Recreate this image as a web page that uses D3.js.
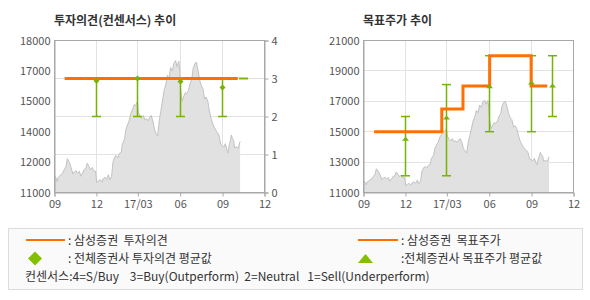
<!DOCTYPE html>
<html>
<head>
<meta charset="utf-8">
<script src="https://cdn.jsdelivr.net/npm/d3@7"></script>
<style>
body { margin:0; background:#fff; }
svg text { font-family: "Noto Sans CJK KR", sans-serif; }
</style>
</head>
<body>
<div id="canvas"></div>
<script>
// 주가 (회색 영역)
const priceDates = [
  "2016-09-01","2016-09-05","2016-09-07","2016-09-09","2016-09-13","2016-09-19","2016-09-22","2016-09-26","2016-09-29",
  "2016-10-04","2016-10-07","2016-10-11","2016-10-14","2016-10-18","2016-10-21","2016-10-25","2016-10-28",
  "2016-11-01","2016-11-04","2016-11-08","2016-11-11","2016-11-15","2016-11-18","2016-11-22","2016-11-25","2016-11-29",
  "2016-12-02","2016-12-06","2016-12-09","2016-12-13","2016-12-16","2016-12-20","2016-12-23","2016-12-27","2016-12-30",
  "2017-01-03","2017-01-06","2017-01-10","2017-01-13","2017-01-17","2017-01-20","2017-01-24","2017-01-26","2017-01-31",
  "2017-02-03","2017-02-07","2017-02-10","2017-02-14","2017-02-17","2017-02-21","2017-02-24","2017-02-28",
  "2017-03-02","2017-03-06","2017-03-09","2017-03-13","2017-03-16","2017-03-20","2017-03-23","2017-03-27","2017-03-30",
  "2017-04-03","2017-04-06","2017-04-10","2017-04-13","2017-04-17","2017-04-20","2017-04-24","2017-04-27",
  "2017-05-01","2017-05-04","2017-05-08","2017-05-11","2017-05-15","2017-05-18","2017-05-22","2017-05-25","2017-05-29","2017-05-31",
  "2017-06-02","2017-06-05","2017-06-08","2017-06-12","2017-06-15","2017-06-19","2017-06-22","2017-06-26","2017-06-29",
  "2017-07-03","2017-07-06","2017-07-10","2017-07-13","2017-07-17","2017-07-20","2017-07-24","2017-07-27","2017-07-31",
  "2017-08-03","2017-08-07","2017-08-10","2017-08-14","2017-08-17","2017-08-21","2017-08-24","2017-08-28","2017-08-31",
  "2017-09-04","2017-09-07","2017-09-11","2017-09-13","2017-09-15","2017-09-18","2017-09-20","2017-09-22","2017-09-25","2017-09-27","2017-09-29",
  "2017-10-05","2017-10-09"
];
const priceValues = [
  11800,11650,11500,11700,11780,11900,12050,12200,12560,
  12350,12150,11850,11950,12000,11880,11980,11750,
  11900,12050,12100,12350,12200,12050,12150,12000,11980,
  11450,11550,11600,11480,11650,11700,11600,11820,11580,
  11750,12400,12650,12700,12600,12800,12850,13200,13450,
  13900,14150,14300,14650,14800,15050,15000,15180,
  14700,14500,14400,14550,14350,14400,14300,14450,14550,
  14250,13900,13700,13600,14400,14750,15300,15700,
  16000,16400,16250,16750,16600,16950,17080,16800,17050,16600,
  15700,15200,15400,15600,15550,15700,16000,16200,16700,
  16950,17000,16600,16200,15900,15800,15300,15400,15200,
  14800,14400,14200,14000,13880,13750,13650,13200,13150,
  13100,13250,12900,12820,13150,13400,13650,13500,13400,13050,13100,
  13050,13350
];

// x축
const monthTicks = ["2016-09-01","2016-12-01","2017-03-01","2017-06-01","2017-09-01","2017-12-01"];
const monthLabels = ["09","12","17/03","06","09","12"];

// 투자의견 차트 축
const opinionPriceTicks = [11000,12400,13800,15200,16600,18000];
const opinionPriceLabels = ["11000","12000","14000","15000","17000","18000"];
const consensusTicks = [0,1,2,3,4];

// 목표주가 차트 축
const targetTicks = [11000,13000,15000,17000,19000,21000];

// 삼성증권 투자의견 / 목표주가
const samsungOpinionDates = ["2016-09-23","2017-10-04"];
const samsungOpinion = [3,3];
const samsungTargetDates = ["2016-09-24","2017-02-18","2017-04-05","2017-06-02","2017-08-31","2017-10-05"];
const samsungTarget = [15000,16500,18000,20000,18000,18000];

// 전체증권사 평균 (최소~최대)
const consDates = ["2016-12-01","2017-03-01","2017-06-01","2017-09-01","2017-10-17"];
const opinionAvg = [2.94,3.0,2.92,2.76,null];
const opinionMin = [2,2,2,2,3];
const opinionMax = [3,3,3,3,3];
const targetAvg = [14500,15900,17950,18200,18000];
const targetMin = [12100,12100,15000,15000,16000];
const targetMax = [16000,18100,20000,20000,20000];

const parse = d3.timeParse("%Y-%m-%d");
const orange = "#ff7000";
const green = "#77b300";
const legendGreen = "#82c000";

const width = 590, height = 300;
const iwidth = 210, iheight = 152;

const svg = d3.select("#canvas").append("svg").attr("width", width).attr("height", height);

const x = d3.scaleTime().domain([parse("2016-09-01"), parse("2017-12-01")]).range([0, iwidth]);
const tickDates = monthTicks.map(parse);
const price = priceDates.map((d, i) => ({date: parse(d), value: priceValues[i]}));

function panel(left, title, yPrice, gridValues, yGrid) {
  svg.append("text").attr("x", left).attr("y", 25)
    .attr("font-size", 12).attr("font-weight", "bold").attr("fill", "#333").text(title);

  const g = svg.append("g").attr("transform", `translate(${left + 0.5},40.5)`);

  g.append("g").selectAll("line").data(tickDates.slice(1, -1)).enter().append("line")
    .attr("x1", d => Math.round(x(d))).attr("x2", d => Math.round(x(d)))
    .attr("y1", 0).attr("y2", iheight).attr("stroke", "#e3e3e3");
  g.append("g").selectAll("line").data(gridValues).enter().append("line")
    .attr("x1", 0).attr("x2", iwidth)
    .attr("y1", d => Math.round(yGrid(d))).attr("y2", d => Math.round(yGrid(d))).attr("stroke", "#e3e3e3");

  const area = d3.area().x(d => x(d.date)).y0(iheight).y1(d => yPrice(d.value));
  const line = d3.line().x(d => x(d.date)).y(d => yPrice(d.value));
  g.append("path").datum(price).attr("d", area).attr("fill", "#e1e1e1");
  g.append("path").datum(price).attr("d", line).attr("fill", "none").attr("stroke", "#c2c2c2").attr("stroke-width", 1);

  g.append("rect").attr("width", iwidth).attr("height", iheight)
    .attr("fill", "none").attr("stroke", "#a8a8a8");

  const xAxis = g.append("g").attr("transform", `translate(0,${iheight})`)
    .call(d3.axisBottom(x).tickValues(tickDates).tickFormat((d, i) => monthLabels[i]).tickSize(4).tickPadding(4));
  styleAxis(xAxis);
  return g;
}

function styleAxis(a) {
  a.select(".domain").attr("stroke", "#a8a8a8");
  a.selectAll(".tick line").attr("stroke", "#a8a8a8");
  a.selectAll("text").attr("fill", "#555").attr("font-size", 11)
    .attr("font-family", "'Noto Sans CJK KR', sans-serif");
}

function errorBars(g, yScale, avg, mn, mx) {
  const data = consDates.map((d, i) => ({date: parse(d), avg: avg[i], min: mn[i], max: mx[i]}));
  const bars = g.append("g").selectAll("g").data(data).enter().append("g")
    .attr("transform", d => `translate(${Math.round(x(d.date))},0)`);
  bars.append("line").attr("y1", d => yScale(d.min)).attr("y2", d => yScale(d.max))
    .attr("stroke", green).attr("stroke-width", 1.5);
  bars.append("line").attr("x1", -4.5).attr("x2", 4.5)
    .attr("y1", d => yScale(d.min)).attr("y2", d => yScale(d.min)).attr("stroke", green).attr("stroke-width", 1.5);
  bars.append("line").attr("x1", -4.5).attr("x2", 4.5)
    .attr("y1", d => yScale(d.max)).attr("y2", d => yScale(d.max)).attr("stroke", green).attr("stroke-width", 1.5);
  return data;
}

function markers(g, data, yScale, markerPath) {
  g.append("g").selectAll("path").data(data.filter(d => d.avg !== null)).enter().append("path")
    .attr("transform", d => `translate(${Math.round(x(d.date))},${yScale(d.avg)})`)
    .attr("d", markerPath).attr("fill", green);
}

// ---- 투자의견(컨센서스) 추이 ----
const yOpPrice = d3.scaleLinear().domain([11000, 18000]).range([iheight, 0]);
const yOp = d3.scaleLinear().domain([0, 4]).range([iheight, 0]);
const g1 = panel(54, "투자의견(컨센서스) 추이", yOpPrice, [1, 2, 3], yOp);

const a1 = g1.append("g")
  .call(d3.axisLeft(yOpPrice).tickValues(opinionPriceTicks).tickFormat((d, i) => opinionPriceLabels[i]).tickSize(0).tickPadding(4));
styleAxis(a1);
const a2 = g1.append("g").attr("transform", `translate(${iwidth},0)`)
  .call(d3.axisRight(yOp).tickValues(consensusTicks).tickFormat(d3.format("d")).tickSize(4).tickPadding(3));
styleAxis(a2);

const opData = errorBars(g1, yOp, opinionAvg, opinionMin, opinionMax);
const opLine = samsungOpinionDates.map((d, i) => ({date: parse(d), value: samsungOpinion[i]}));
g1.append("path").datum(opLine)
  .attr("d", d3.line().curve(d3.curveStepAfter).x(d => x(d.date)).y(d => yOp(d.value)))
  .attr("fill", "none").attr("stroke", orange).attr("stroke-width", 3);
markers(g1, opData, yOp, "M0,-3L3,0L0,3L-3,0Z");

// ---- 목표주가 추이 ----
const yTarget = d3.scaleLinear().domain([11000, 21000]).range([iheight, 0]);
const g2 = panel(363, "목표주가 추이", yTarget, [13000, 15000, 17000, 19000], yTarget);
const a3 = g2.append("g")
  .call(d3.axisLeft(yTarget).tickValues(targetTicks).tickFormat(d3.format("d")).tickSize(0).tickPadding(4));
styleAxis(a3);

const tgData = errorBars(g2, yTarget, targetAvg, targetMin, targetMax);
const tgLine = samsungTargetDates.map((d, i) => ({date: parse(d), value: samsungTarget[i]}));
g2.append("path").datum(tgLine)
  .attr("d", d3.line().curve(d3.curveStepAfter).x(d => x(d.date)).y(d => yTarget(d.value)))
  .attr("fill", "none").attr("stroke", orange).attr("stroke-width", 3);
markers(g2, tgData, yTarget, "M0,-2.5L3.5,1.5L-3.5,1.5Z");

// ---- 범례 ----
const lg = svg.append("g");
lg.append("rect").attr("x", 8.5).attr("y", 228.5).attr("width", 574).attr("height", 61)
  .attr("fill", "#fafafa").attr("stroke", "#dcdcdc");
lg.append("line").attr("x1", 26).attr("x2", 65).attr("y1", 240).attr("y2", 240).attr("stroke", orange).attr("stroke-width", 2);
lg.append("path").attr("d", "M35,251.5L42,258.5L35,265.5L28,258.5Z").attr("fill", legendGreen);
lg.append("line").attr("x1", 358).attr("x2", 398).attr("y1", 240).attr("y2", 240).attr("stroke", orange).attr("stroke-width", 2);
lg.append("path").attr("d", "M365.5,254L373,263L358,263Z").attr("fill", legendGreen);

const legendText = [
  {x: 68, y: 245, t: ": 삼성증권  투자의견"},
  {x: 68, y: 263, t: ": 전체증권사 투자의견 평균값"},
  {x: 401, y: 245, t: ": 삼성증권  목표주가"},
  {x: 401, y: 263, t: ":전체증권사 목표주가 평균값"},
  {x: 25, y: 281, t: "컨센서스:4=S/Buy    3=Buy(Outperform)  2=Neutral   1=Sell(Underperform)"}
];
lg.selectAll("text.lt").data(legendText).enter().append("text")
  .attr("x", d => d.x).attr("y", d => d.y)
  .attr("font-size", 12)
  .attr("fill", "#333").style("white-space", "pre").text(d => d.t);
</script>
</body>
</html>
